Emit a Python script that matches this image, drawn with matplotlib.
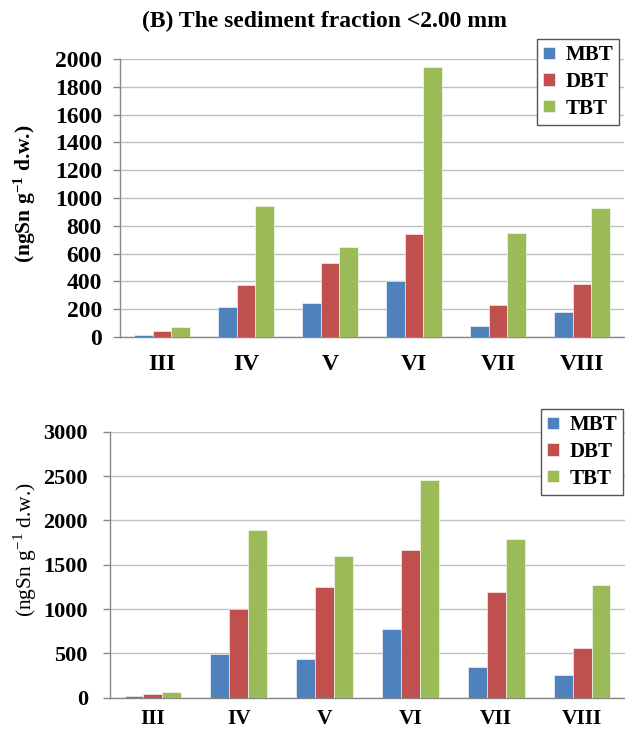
import matplotlib
matplotlib.use("Agg")
import matplotlib.pyplot as plt
import numpy as np

sites = ["III", "IV", "V", "VI", "VII", "VIII"]
series = ["MBT", "DBT", "TBT"]
colors = ["#4F81BD", "#C0504D", "#9BBB59"]

top_mbt = [12, 213, 242, 403, 81, 178]
top_dbt = [45, 374, 535, 741, 230, 381]
top_tbt = [70, 944, 650, 1944, 750, 925]

bot_mbt = [20, 493, 436, 771, 350, 256]
bot_dbt = [42, 1000, 1245, 1662, 1188, 557]
bot_tbt = [68, 1891, 1598, 2455, 1786, 1271]

top_ticks = [0, 200, 400, 600, 800, 1000, 1200, 1400, 1600, 1800, 2000]
bot_ticks = [0, 500, 1000, 1500, 2000, 2500, 3000]

title = "(B) The sediment fraction <2.00 mm"
ylab = r"(ngSn g$^{-1}$ d.w.)"

plt.rcParams["font.family"] = ["Liberation Serif", "DejaVu Serif"]
plt.rcParams["mathtext.fontset"] = "custom"
plt.rcParams["mathtext.rm"] = "Liberation Serif"
plt.rcParams["mathtext.bf"] = "Liberation Serif:bold"

W, H = 625, 734
fig = plt.figure(figsize=(W / 100, H / 100), dpi=100)

def px(x0, y0, x1, y1):
    return [x0 / W, 1 - y1 / H, (x1 - x0) / W, (y1 - y0) / H]

ax1 = fig.add_axes(px(120, 59, 624, 337))
ax2 = fig.add_axes(px(110, 431.7, 625, 697.7))

def draw(ax, vals, ticks, tick_fs, xtick_fs, xpad, ypad, leg_anchor):
    x = np.arange(len(sites))
    w = 0.22
    for i, (v, c, s) in enumerate(zip(vals, colors, series)):
        ax.bar(x + (i - 1) * w, v, width=w, color=c, label=s,
               edgecolor="white", linewidth=0.4, zorder=3)
    ax.set_xlim(-0.5, len(sites) - 0.5)
    ax.set_ylim(ticks[0], ticks[-1])
    ax.set_yticks(ticks)
    ax.set_xticks(x)
    ax.set_xticklabels(sites)
    for lab in ax.get_yticklabels():
        lab.set_fontweight("bold")
        lab.set_fontsize(tick_fs)
    for lab in ax.get_xticklabels():
        lab.set_fontweight("bold")
        lab.set_fontsize(xtick_fs)
    ax.tick_params(axis="x", length=0, pad=xpad)
    ax.tick_params(axis="y", length=5, width=1, color="#888888", pad=ypad)
    ax.grid(axis="y", color="#bfbfbf", linewidth=1, zorder=0)
    ax.set_axisbelow(True)
    for sp in ["top", "right"]:
        ax.spines[sp].set_visible(False)
    for sp in ["left", "bottom"]:
        ax.spines[sp].set_color("#888888")
        ax.spines[sp].set_linewidth(1)
    leg = ax.legend(loc="upper left", bbox_to_anchor=leg_anchor,
                    bbox_transform=fig.transFigure, borderaxespad=0,
                    prop={"weight": "bold", "size": 15},
                    handlelength=0.55, handleheight=0.55, handletextpad=0.5,
                    labelspacing=0.32, fancybox=False, frameon=True,
                    borderpad=0.3)
    fr = leg.get_frame()
    fr.set_edgecolor("#555555")
    fr.set_linewidth(1)
    fr.set_alpha(1)
    return leg

draw(ax1, [top_mbt, top_dbt, top_tbt], top_ticks, 17, 17, 12, 8,
     (537 / W, 1 - 39 / H))
draw(ax2, [bot_mbt, bot_dbt, bot_tbt], bot_ticks, 16, 15.5, 8, 11,
     (541 / W, 1 - 409 / H))

fig.text(325 / W, 1 - 21 / H, title, ha="center", va="center",
         fontsize=17, fontweight="bold")
fig.text(25 / W, 1 - 194 / H, r"(ngSn g$\mathbf{^{-1}}$ d.w.)", rotation=90,
         ha="center", va="center", fontsize=15.5, fontweight="bold")
fig.text(25 / W, 1 - 550 / H, ylab, rotation=90,
         ha="center", va="center", fontsize=15.5)

fig.savefig("out.png", dpi=100)
